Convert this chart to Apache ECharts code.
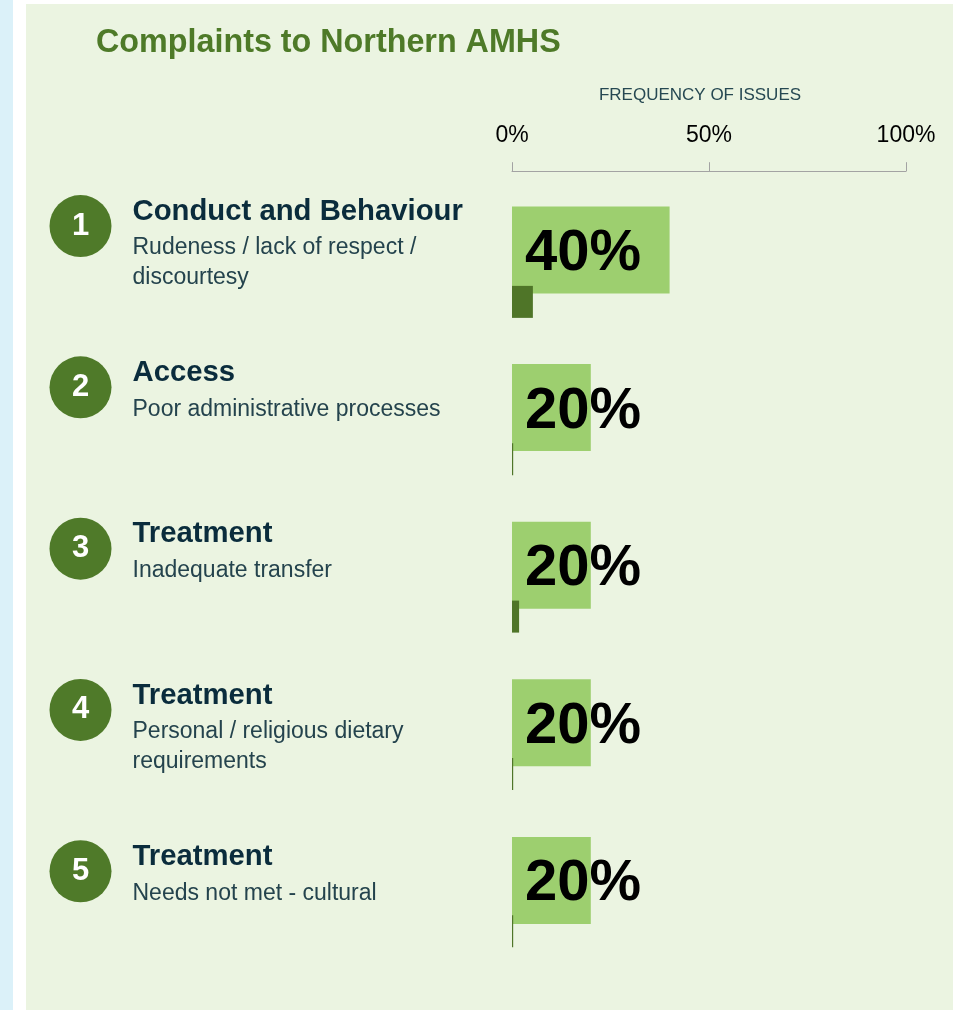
<!DOCTYPE html>
<html>
<head>
<meta charset="utf-8">
<script src="https://cdn.jsdelivr.net/npm/echarts@6/dist/echarts.min.js"></script>
<style>
  html, body { margin: 0; padding: 0; width: 953px; height: 1010px; background: #fff; overflow: hidden; }
  #strip { position: absolute; left: 0; top: 0; width: 13px; height: 1010px; background: #dbf1f9; }
  #panel { position: absolute; left: 26px; top: 4px; right: 0; bottom: 0; background: #ebf4e1; }
  #chart { position: absolute; left: 0; top: 0; width: 953px; height: 1010px; }
</style>
</head>
<body>
<div id="strip"></div>
<div id="panel"></div>
<div id="chart"></div>
<script>
(() => {
  'use strict';

  const FONT = '"Liberation Sans", Arial, sans-serif';

  // -------- data --------
  const RANKS = ['1', '2', '3', '4', '5'];
  const HEADINGS = ['Conduct and Behaviour', 'Access', 'Treatment', 'Treatment', 'Treatment'];
  const ISSUES = [
    'Rudeness / lack of respect /\ndiscourtesy',
    'Poor administrative processes',
    'Inadequate transfer',
    'Personal / religious dietary\nrequirements',
    'Needs not met - cultural',
  ];
  const FREQ = [40, 20, 20, 20, 20];        // big light bars (%)
  const SMALL = [5.3, 0.3, 1.8, 0.3, 0.3];  // small dark bars (%)

  const LIGHT = '#9dcf6f';
  const DARK = '#4f7528';
  const CIRCLE = '#4f7a29';

  const chart = echarts.init(document.getElementById('chart'), null, { renderer: 'canvas' });

  chart.setOption({
    animation: false,
    backgroundColor: 'transparent',
    textStyle: { fontFamily: FONT },
    title: {
      text: 'Complaints to Northern AMHS',
      left: 96, top: 27, padding: 0,
      textStyle: { fontFamily: FONT, fontSize: 32.3, fontWeight: 'bold', color: '#4e7a28' },
    },
    grid: [
      { left: 512, width: 394, top: 171.2, height: 788 },   // light bars + axis
      { left: 512, width: 394, top: 223.2, height: 788 },   // dark bars (shifted down)
      { left: 80.5, width: 100, top: 145.4, height: 806.5 }, // number circles + text
    ],
    xAxis: [
      {
        gridIndex: 0, type: 'value', min: 0, max: 100, interval: 50, position: 'top',
        name: 'FREQUENCY OF ISSUES', nameLocation: 'middle', nameGap: 67,
        nameTextStyle: { fontFamily: FONT, fontSize: 17, color: '#264852', padding: [0, 18, 0, 0] },
        axisLine: { show: true, lineStyle: { color: '#a3a3a3', width: 1 } },
        axisTick: { show: true, length: 9, lineStyle: { color: '#a3a3a3' } },
        axisLabel: { formatter: '{value}%', fontFamily: FONT, fontSize: 23, color: '#000', margin: 24 },
        splitLine: { show: false },
      },
      { gridIndex: 1, type: 'value', min: 0, max: 100, show: false },
      { gridIndex: 2, type: 'value', min: 0, max: 1, show: false },
    ],
    yAxis: [
      { gridIndex: 0, type: 'category', data: RANKS, inverse: true, show: false },
      { gridIndex: 1, type: 'category', data: RANKS, inverse: true, show: false },
      { gridIndex: 2, type: 'category', data: RANKS, inverse: true, show: false },
    ],
    series: [
      {
        type: 'bar', xAxisIndex: 0, yAxisIndex: 0, data: FREQ, barWidth: 87,
        itemStyle: { color: LIGHT }, silent: true,
        label: {
          show: true, position: 'insideLeft', distance: 13, offset: [0, 4], formatter: '{c}%',
          fontFamily: FONT, fontSize: 58, fontWeight: 'bold', color: '#000',
        },
      },
      {
        type: 'bar', xAxisIndex: 1, yAxisIndex: 1, data: SMALL, barWidth: 32,
        itemStyle: { color: DARK }, silent: true,
      },
      {
        type: 'scatter', xAxisIndex: 2, yAxisIndex: 2, clip: false, silent: true,
        data: RANKS.map((r, i) => [0, i]),
        symbol: 'circle', symbolSize: 62,
        itemStyle: { color: CIRCLE, opacity: 1 },
        label: {
          show: true, position: 'inside',
          formatter: (p) => RANKS[p.dataIndex],
          fontFamily: FONT, fontSize: 31, fontWeight: 'bold', color: '#fff',
          textBorderWidth: 0,
        },
      },
      {
        // heading + description text next to each circle
        type: 'scatter', xAxisIndex: 2, yAxisIndex: 2, clip: false, silent: true,
        data: RANKS.map((r, i) => [0, i]),
        symbol: 'circle', symbolSize: 1,
        itemStyle: { color: 'rgba(0,0,0,0)', opacity: 1 },
        label: {
          show: true, position: [52.5, -35.5], align: 'left', verticalAlign: 'top',
          textBorderWidth: 0, opacity: 1,
          formatter: (p) => {
            const i = p.dataIndex;
            const lines = ISSUES[i].split('\n').map((l) => `{s|${l}}`).join('\n');
            return `{h|${HEADINGS[i]}}\n${lines}`;
          },
          rich: {
            h: { fontFamily: FONT, fontSize: 29.3, fontWeight: 'bold', color: '#0a2c3c', lineHeight: 43 },
            s: { fontFamily: FONT, fontSize: 23, color: '#24434d', lineHeight: 30 },
          },
        },
      },
    ],
  });
})();
</script>
</body>
</html>
